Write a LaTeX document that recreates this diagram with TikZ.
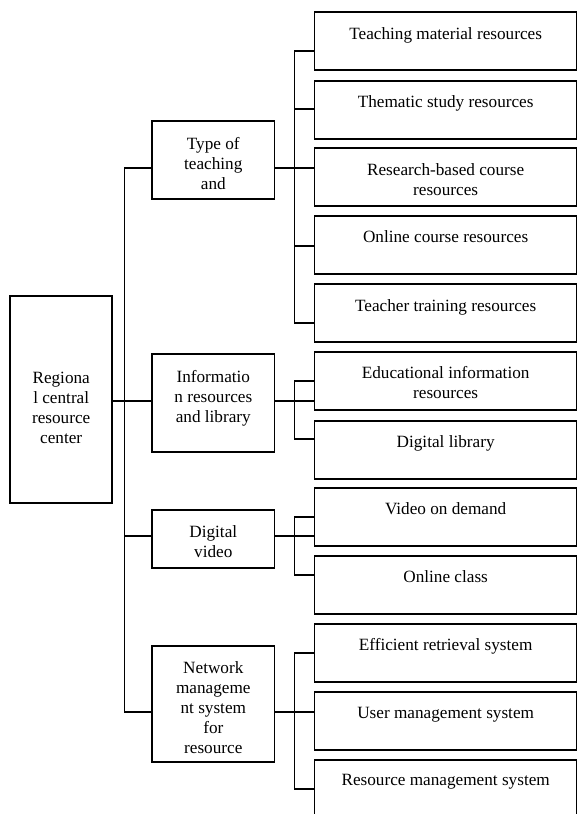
\documentclass[tikz,border=0pt]{standalone}
\usepackage{fontspec}
\setmainfont{Liberation Serif}
\begin{document}
\begin{tikzpicture}[x=1pt,y=-1pt,
  box/.style={draw=black,line width=1.7pt,rectangle,inner sep=0pt},
  rbox/.style={box,minimum width=262.3pt,minimum height=58pt},
  mbox/.style={box,minimum width=122.5pt},
  txt/.style={anchor=north,inner sep=0pt,align=center,font=\fontsize{17.2}{20}\selectfont},
  link/.style={draw=black,line width=1.7pt,line join=miter}]
\useasboundingbox (0,0) rectangle (577,814);
\clip (0,0) rectangle (577,814);
% root
\node[box,minimum width=102.3pt,minimum height=206.7pt] (root) at (61.15,399.35) {};
\node[txt] (troot) at (61.2,371.5) {Regiona\\l central\\resource\\center};
% middle boxes
\node[mbox,minimum height=78.3pt] (type) at (213.25,160.15) {};
\node[txt] (ttype) at (213.3,136.8) {Type of\\teaching\\and};
\node[mbox,minimum height=97.7pt] (info) at (213.25,402.85) {};
\node[txt] (tinfo) at (213.3,369.8) {Informatio\\n resources\\and library};
\node[mbox,minimum height=58.6pt] (dig) at (213.25,539) {};
\node[txt] (tdig) at (213.3,525.8) {Digital\\video};
\node[mbox,minimum height=116pt] (net) at (213.25,704.3) {};
\node[txt] (tnet) at (213.3,661.5) {Network\\manageme\\nt system\\for\\resource};
% right boxes
\foreach \n/\t/\s in {
  b1/12.3/{Teaching material resources},
  b2/81/{Thematic study resources},
  b3/148.3/{Research-based course\\resources},
  b4/216/{Online course resources},
  b5/284.3/{Teacher training resources},
  b6/351.7/{Educational information\\resources},
  b7/420.7/{Digital library},
  b8/487.7/{Video on demand},
  b9/555.7/{Online class},
  b10/623.7/{Efficient retrieval system},
  b11/692/{User management system},
  b12/759.7/{Resource management system}}{
  \node[rbox] (\n) at (445.65,\t+29) {};
  \node[txt] (t\n) at (445.65,\t+14.8) {\s};
}
% trunk coordinates
\coordinate (ta) at (124.4,167.7);
\coordinate (tc) at (124.4,536.3);
\coordinate (td) at (124.4,711.7);
\coordinate (rb) at (124.4,400.7);
\draw[link] (type.west |- ta) -- (ta) -- (td) -- (net.west |- td);
\draw[link] (tc) -- (dig.west |- tc);
\draw[link] (root.east |- rb) -- (info.west |- rb);
% group A
\coordinate (sa1) at (294.4,50.7);
\coordinate (sa2) at (294.4,109.3);
\coordinate (sa3) at (294.4,167.7);
\coordinate (sa4) at (294.4,245.7);
\coordinate (sa5) at (294.4,322.7);
\draw[link] (b1.west |- sa1) -- (sa1) -- (sa5) -- (b5.west |- sa5);
\draw[link] (sa2) -- (b2.west |- sa2);
\draw[link] (sa4) -- (b4.west |- sa4);
\draw[link] (type.east |- sa3) -- (b3.west |- sa3);
% group B
\coordinate (sb1) at (294.4,380.7);
\coordinate (sb2) at (294.4,400.7);
\coordinate (sb3) at (294.4,439.3);
\draw[link] (b6.west |- sb1) -- (sb1) -- (sb3) -- (b7.west |- sb3);
\draw[link] (info.east |- sb2) -- (b6.west |- sb2);
% group C
\coordinate (sc1) at (294.4,517.3);
\coordinate (sc2) at (294.4,536.3);
\coordinate (sc3) at (294.4,575);
\draw[link] (b8.west |- sc1) -- (sc1) -- (sc3) -- (b9.west |- sc3);
\draw[link] (dig.east |- sc2) -- (b8.west |- sc2);
% group D
\coordinate (sd1) at (294.4,653.3);
\coordinate (sd2) at (294.4,711.7);
\coordinate (sd3) at (294.4,789);
\draw[link] (b10.west |- sd1) -- (sd1) -- (sd3) -- (b12.west |- sd3);
\draw[link] (net.east |- sd2) -- (b11.west |- sd2);
\end{tikzpicture}
\end{document}
